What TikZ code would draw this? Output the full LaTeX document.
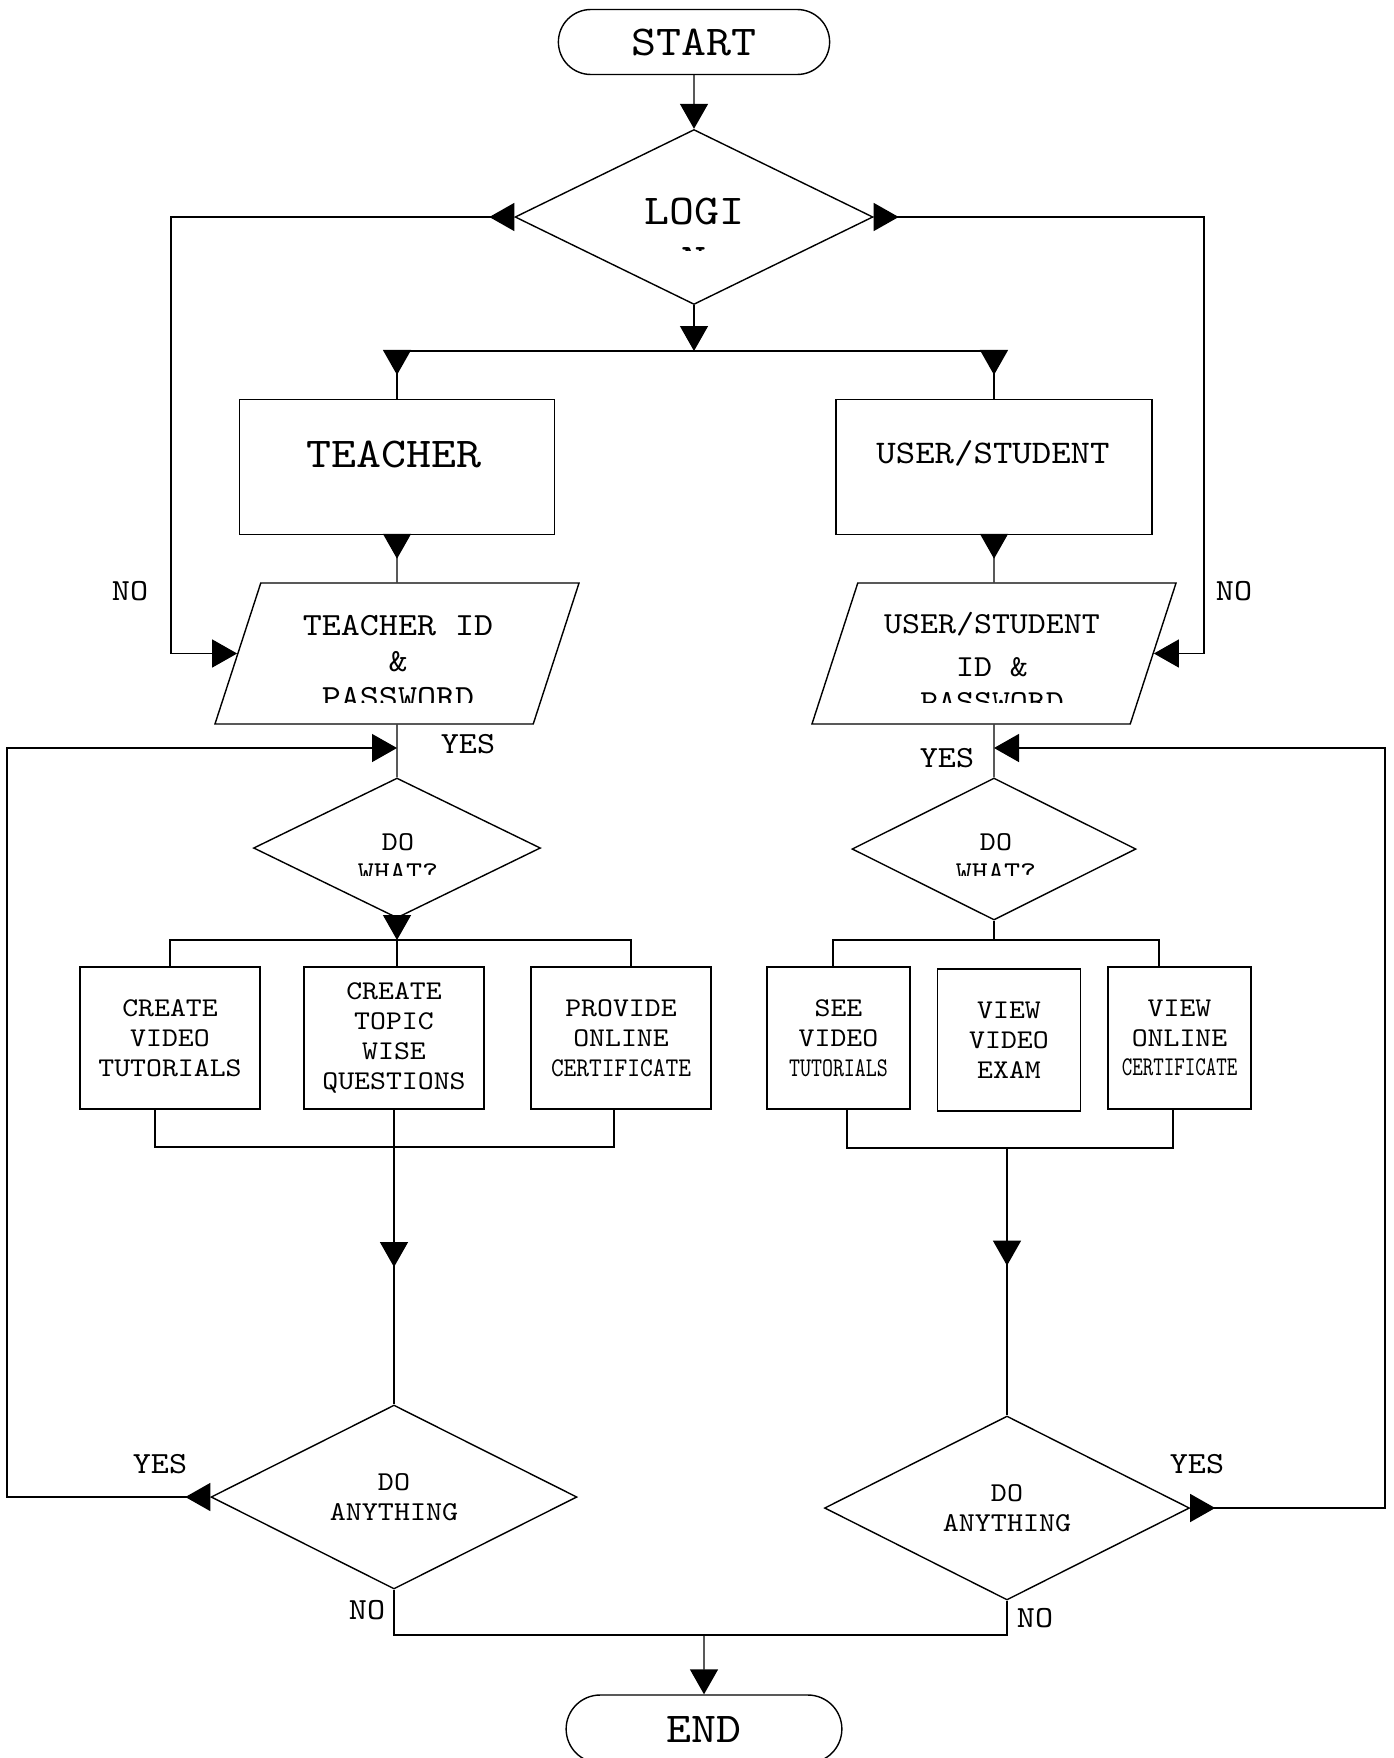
\documentclass[tikz,border=0pt]{standalone}
\usepackage{fontspec}
\usepackage{graphicx}
\usetikzlibrary{shapes.geometric,shapes.misc,arrows.meta,decorations.markings,positioning}
\newfontfamily\courfam{lmmono10-regular.otf}[FakeStretch=1.12]
\newcommand{\flowfont}[2]{\courfam\fontsize{#1}{#2}\selectfont}
\tikzset{
    flow/.style={line width=0.8pt},
    endarrow/.style={-{Triangle[width=0.56cm,length=0.5cm]}},
    midarrow/.style={postaction={decorate},
        decoration={markings,
            mark=at position #1 with {\arrow{Triangle[width=0.56cm,length=0.5cm]}}}},
    midarrow/.default=0.5,
    terminal/.style={rounded rectangle, draw, line width=0.8pt,
        minimum width=5.66cm, minimum height=1.3cm, font=\flowfont{24.2}{28}},
    decision/.style={diamond, draw, line width=0.8pt, inner sep=0pt, align=center},
    iobox/.style={trapezium, trapezium left angle=72, trapezium right angle=108,
        draw, line width=0.8pt, inner sep=0pt,
        text width=5.45cm, text height=1.41cm, text depth=1.41cm},
    procbox/.style={rectangle, draw, line width=0.8pt, inner sep=0pt, align=center},
    taskbox/.style={procbox, minimum width=3.6cm, minimum height=2.84cm,
        font=\flowfont{15.4}{17}},
    viewbox/.style={procbox, minimum width=2.86cm, minimum height=2.84cm,
        font=\flowfont{15.4}{17}},
    answer/.style={font=\flowfont{17.5}{20}, inner sep=0pt}
}
\begin{document}
\begin{tikzpicture}[x=0.02cm, y=-0.02cm]
    \useasboundingbox (0,0) rectangle (1393,1758);

    \node[terminal, name=start] at (694,42) {START};
    \node[
        decision,
        minimum width=7.16cm,
        minimum height=3.5cm,
        name=login
    ] at (694,217) {};
    \begin{scope}
        \clip (560,150) rectangle (830,250);
        \node[font=\flowfont{24.2}{27.9}, align=center, inner sep=0pt, anchor=north,
            name=logintxt] at (694,198) {LOGI\\N};
    \end{scope}

    \node[
        procbox,
        minimum width=6.3cm,
        minimum height=2.7cm,
        name=tbox
    ] at (397,467) {};
    \node[font=\flowfont{24.2}{28}, inner sep=0pt, anchor=base, name=tboxtxt]
        at (394,467) {TEACHER};
    \node[
        procbox,
        minimum width=6.32cm,
        minimum height=2.7cm,
        name=ubox
    ] at (994,467) {};
    \node[font=\flowfont{18.8}{22}, inner sep=0pt, anchor=base, name=uboxtxt]
        at (993,463) {USER/STUDENT};

    \node[iobox, name=tid] at (397,653.5) {};
    \begin{scope}
        \clip (200,560) rectangle (600,702);
        \node[font=\flowfont{18.4}{20.5}, align=center, inner sep=0pt, anchor=north,
            name=tidtxt] at (398,615) {TEACHER ID\\\&\\PASSWORD};
    \end{scope}
    \node[iobox, name=uid] at (994,653.5) {};
    \begin{scope}
        \clip (780,560) rectangle (1200,702);
        \node[font=\flowfont{17.4}{24.5}, align=center, inner sep=0pt, anchor=north,
            name=uidtxt] at (992,612) {USER/STUDENT\\ID \&\\[-4.5pt]PASSWORD};
    \end{scope}

    \node[
        decision,
        minimum width=5.74cm,
        minimum height=2.8cm,
        name=dwl
    ] at (397,848) {};
    \begin{scope}
        \clip (250,800) rectangle (550,875);
        \node[font=\flowfont{15.5}{17}, align=center, inner sep=0pt, anchor=north,
            name=dwltxt] at (398,833) {DO\\WHAT?};
    \end{scope}
    \node[
        decision,
        minimum width=5.68cm,
        minimum height=2.84cm,
        name=dwr
    ] at (994,849) {};
    \begin{scope}
        \clip (850,800) rectangle (1150,875);
        \node[font=\flowfont{15.5}{17}, align=center, inner sep=0pt, anchor=north,
            name=dwrtxt] at (996,833) {DO\\WHAT?};
    \end{scope}

    \node[taskbox, name=c1] at (170,1038) {CREATE\\VIDEO\\TUTORIALS};
    \node[taskbox, name=c2] at (394,1038) {CREATE\\TOPIC\\WISE\\QUESTIONS};
    \node[taskbox, name=c3] at (621,1038) {PROVIDE\\ONLINE\\\scalebox{0.8}[1]{CERTIFICATE}};

    \node[viewbox, name=d1] at (838.5,1038) {SEE\\VIDEO\\\scalebox{0.69}[1]{TUTORIALS}};
    \node[viewbox, name=d2] at (1009,1040) {VIEW\\VIDEO\\EXAM};
    \node[viewbox, name=d3] at (1179.5,1038) {VIEW\\ONLINE\\\scalebox{0.66}[1]{CERTIFICATE}};

    \node[
        decision,
        minimum width=7.32cm,
        minimum height=3.68cm,
        font=\flowfont{15.5}{17},
        name=dal
    ] at (394,1497) {DO\\ANYTHING};
    \node[
        decision,
        minimum width=7.3cm,
        minimum height=3.68cm,
        font=\flowfont{15.5}{17},
        name=dar
    ] at (1007,1508) {DO\\ANYTHING};

    \node[terminal, minimum width=5.75cm, minimum height=1.36cm, name=stop] at (704,1729) {END};

    \coordinate (split) at (694,351);
    \coordinate (noleft) at (171,0);
    \coordinate (noright) at (1204,0);
    \coordinate (loopl) at (7,0);
    \coordinate (loopr) at (1385,0);
    \coordinate (yesl) at (397,748);
    \coordinate (yesr) at (994,748);
    \coordinate (jl) at (397,940);
    \coordinate (jr) at (994,940);
    \coordinate (kl) at (394,1147);
    \coordinate (kr) at (1007,1148);
    \coordinate (endj) at (704,1635);
    \coordinate (c3t) at ([xshift=0.2cm]c3.north);
    \coordinate (c1b) at ([xshift=-0.3cm]c1.south);
    \coordinate (c3b) at ([xshift=-0.14cm]c3.south);
    \coordinate (d1t) at ([xshift=-0.11cm]d1.north);
    \coordinate (d3t) at ([xshift=-0.41cm]d3.north);
    \coordinate (d1b) at ([xshift=0.17cm]d1.south);
    \coordinate (d3b) at ([xshift=-0.13cm]d3.south);

    \draw[flow, endarrow] (start) -- (login);
    \draw[flow, endarrow] (login) -- (split);
    \draw[flow] (split -| tbox) -- (split -| ubox);
    \draw[flow, midarrow] (split -| tbox) -- (tbox);
    \draw[flow, midarrow] (split -| ubox) -- (ubox);
    \draw[flow, midarrow] (tbox) -- (tid);
    \draw[flow, midarrow] (ubox) -- (uid);

    \draw[flow, endarrow, midarrow=0.5cm] (login.west) -- (login.west -| noleft) |- (tid.west);
    \draw[flow, endarrow, midarrow=0.5cm] (login.east) -- (login.east -| noright) |- (uid.east);

    \draw[flow] (tid) -- (dwl);
    \draw[flow] (uid) -- (dwr);

    \draw[flow, endarrow] (dwl) -- (jl);
    \draw[flow] (c1.north) |- (jl) -| (c3t);
    \draw[flow] (jl) -- (jl |- c2.north);
    \draw[flow] (dwr) -- (jr);
    \draw[flow] (d1t) |- (jr) -| (d3t);

    \draw[flow] (c1b) |- (kl) -| (c3b);
    \draw[flow, midarrow=0.534] (c2) -- (dal);
    \draw[flow] (d1b) |- (kr) -| (d3b);
    \draw[flow, midarrow=0.44] (kr) -- (dar);

    \draw[flow, endarrow, midarrow=0.5cm] (dal.west) -- (dal.west -| loopl) |- (yesl);
    \draw[flow, endarrow, midarrow=0.5cm] (dar.east) -- (dar.east -| loopr) |- (yesr);

    \draw[flow] (dal.south) |- (endj) -| (dar.south);
    \draw[flow, endarrow] (endj) -- (stop);

    \node[answer, name=nol] at (130,591) {NO};
    \node[answer, name=nor] at (1234,591) {NO};
    \node[answer, name=yestl] at (468,744) {YES};
    \node[answer, name=yestr] at (947,758) {YES};
    \node[answer, name=yesbl] at (160,1464) {YES};
    \node[answer, name=yesbr] at (1197,1464) {YES};
    \node[answer, name=nobl] at (367,1610) {NO};
    \node[answer, name=nobr] at (1035,1618) {NO};
\end{tikzpicture}
\end{document}
